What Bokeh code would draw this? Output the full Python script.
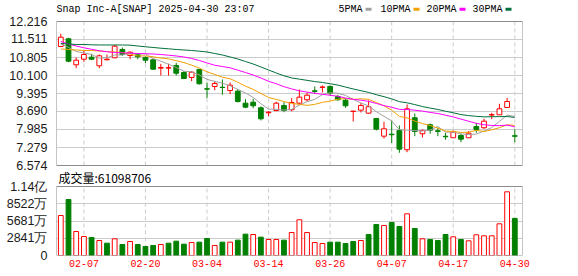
from bokeh.plotting import figure
from bokeh.models import FixedTicker, Range1d, ColumnDataSource, BoxAnnotation
from bokeh.core.properties import value
from bokeh.embed import file_html
from bokeh.resources import INLINE

# ---------------- data ----------------
dates = ["02-04", "02-05", "02-06", "02-07", "02-10", "02-11", "02-12", "02-13", "02-14",
         "02-18", "02-19", "02-20", "02-21", "02-24", "02-25", "02-26", "02-27", "02-28",
         "03-03", "03-04", "03-05", "03-06", "03-07", "03-10", "03-11", "03-12", "03-13",
         "03-14", "03-17", "03-18", "03-19", "03-20", "03-21", "03-24", "03-25", "03-26",
         "03-27", "03-28", "03-31", "04-01", "04-02", "04-03", "04-04", "04-07", "04-08",
         "04-09", "04-10", "04-11", "04-14", "04-15", "04-16", "04-17", "04-21", "04-22",
         "04-23", "04-24", "04-25", "04-28", "04-29", "04-30"]

open_ = [11.237, 11.538, 10.520, 10.739, 10.818, 10.481, 10.716, 10.794, 11.119, 10.884,
         10.912, 10.806, 10.716, 10.387, 10.390, 10.493, 10.218, 10.023, 10.336, 9.580,
         9.670, 9.640, 9.513, 9.486, 9.016, 9.055, 8.836, 8.640, 8.730, 8.926,
         8.758, 9.016, 9.149, 9.500, 9.635, 9.670, 9.278, 9.133, 8.691, 8.742,
         8.624, 8.417, 7.723, 7.800, 7.946, 7.190, 8.444, 7.817, 8.170, 7.935,
         7.720, 7.661, 7.751, 7.661, 8.103, 8.052, 8.550, 8.561, 8.848, 7.740]
high = [11.734, 11.578, 10.806, 11.068, 10.951, 10.923, 10.923, 11.303, 11.198, 11.041,
        10.951, 10.857, 10.755, 10.559, 10.560, 10.598, 10.270, 10.270, 10.363, 9.827,
        9.866, 9.944, 9.827, 9.564, 9.173, 9.190, 8.887, 8.702, 9.071, 9.055,
        9.212, 9.550, 9.423, 9.670, 9.709, 9.709, 9.345, 9.188, 8.718, 9.032,
        9.122, 8.430, 8.287, 8.330, 8.142, 8.965, 8.612, 7.986, 8.221, 8.052,
        7.856, 7.946, 7.817, 7.919, 8.248, 8.405, 8.640, 8.992, 9.227, 7.986]
low = [11.210, 10.622, 10.387, 10.637, 10.700, 10.387, 10.700, 10.794, 10.872, 10.739,
       10.739, 10.583, 10.324, 10.101, 10.100, 10.101, 9.956, 9.878, 9.748, 9.212,
       9.525, 9.345, 9.368, 9.043, 8.820, 8.820, 8.338, 8.507, 8.702, 8.663,
       8.702, 8.965, 9.094, 9.384, 9.435, 9.306, 9.110, 8.836, 8.299, 8.651,
       8.600, 7.946, 7.633, 7.460, 7.073, 7.096, 7.723, 7.672, 7.817, 7.723,
       7.582, 7.661, 7.488, 7.661, 7.856, 8.013, 8.389, 8.561, 8.848, 7.488]
close = [11.601, 10.661, 10.700, 10.923, 10.739, 10.872, 10.739, 11.249, 10.923, 11.014,
         10.833, 10.700, 10.348, 10.414, 10.410, 10.191, 9.983, 10.231, 9.776, 9.565,
         9.788, 9.630, 9.721, 9.082, 8.860, 8.914, 8.405, 8.663, 9.016, 8.730,
         9.043, 9.251, 9.329, 9.480, 9.650, 9.408, 9.149, 8.914, 8.702, 8.926,
         8.875, 7.998, 8.013, 7.780, 7.214, 8.796, 7.907, 7.946, 7.958, 7.910,
         7.700, 7.880, 7.606, 7.841, 7.986, 8.311, 8.570, 8.796, 9.082, 7.720]

ma5 = [11.343, 11.198, 11.041, 10.982, 10.925, 10.779, 10.795, 10.904, 10.904, 10.959,
       10.952, 10.944, 10.764, 10.662, 10.541, 10.413, 10.269, 10.246, 10.118, 9.949,
       9.869, 9.798, 9.696, 9.557, 9.416, 9.241, 8.996, 8.785, 8.772, 8.746,
       8.771, 8.941, 9.074, 9.167, 9.351, 9.424, 9.403, 9.320, 9.165, 9.020,
       8.913, 8.683, 8.503, 8.318, 7.976, 7.960, 7.942, 7.929, 7.964, 8.103,
       7.884, 7.879, 7.811, 7.787, 7.803, 7.925, 8.063, 8.301, 8.549, 8.496]
ma10 = [11.139, 11.119, 11.100, 11.080, 11.080, 11.060, 11.041, 11.021, 11.002, 10.942,
        10.865, 10.869, 10.834, 10.783, 10.750, 10.682, 10.607, 10.505, 10.390, 10.245,
        10.141, 10.034, 9.971, 9.838, 9.683, 9.555, 9.397, 9.240, 9.164, 9.081,
        9.006, 8.969, 8.929, 8.969, 9.048, 9.098, 9.172, 9.197, 9.166, 9.185,
        9.168, 9.043, 8.912, 8.742, 8.498, 8.437, 8.313, 8.216, 8.141, 8.040,
        7.922, 7.910, 7.870, 7.876, 7.953, 7.905, 7.971, 8.056, 8.168, 8.149]
ma20 = [11.433, 11.335, 11.256, 11.186, 11.127, 11.072, 11.029, 11.002, 10.990, 10.978,
        10.963, 10.955, 10.943, 10.923, 10.896, 10.865, 10.826, 10.767, 10.688, 10.594,
        10.503, 10.451, 10.402, 10.310, 10.216, 10.119, 10.002, 9.873, 9.777, 9.663,
        9.574, 9.501, 9.450, 9.403, 9.365, 9.326, 9.285, 9.219, 9.165, 9.133,
        9.087, 9.006, 8.920, 8.855, 8.773, 8.767, 8.742, 8.706, 8.653, 8.612,
        8.545, 8.477, 8.391, 8.309, 8.225, 8.171, 8.142, 8.136, 8.155, 8.094]
ma30 = [11.354, 11.335, 11.315, 11.315, 11.303, 11.296, 11.296, 11.296, 11.296, 11.288,
        11.256, 11.225, 11.198, 11.170, 11.147, 11.119, 11.100, 11.080, 11.053, 11.021,
        10.963, 10.904, 10.826, 10.747, 10.649, 10.551, 10.434, 10.316, 10.199, 10.089,
        10.004, 9.957, 9.911, 9.863, 9.827, 9.778, 9.725, 9.647, 9.573, 9.504,
        9.438, 9.348, 9.271, 9.183, 9.076, 9.030, 8.961, 8.884, 8.824, 8.769,
        8.699, 8.641, 8.570, 8.529, 8.500, 8.480, 8.485, 8.490, 8.492, 8.458]

# volume in millions of shares
volume_m = [65.9, 92.2, 39.5, 31.3, 29.7, 24.7, 20.3, 27.5, 18.1, 23.1,
            18.1, 14.8, 16.5, 18.1, 20.3, 23.6, 18.7, 21.4, 22.0, 28.0,
            16.5, 22.0, 22.0, 25.3, 35.2, 34.6, 30.2, 26.4, 26.4, 25.3,
            37.9, 58.8, 37.9, 21.4, 19.8, 22.0, 22.0, 19.8, 23.1, 24.7,
            34.6, 51.1, 49.4, 54.4, 47.8, 68.7, 44.5, 27.5, 26.4, 24.7,
            34.6, 30.8, 26.4, 24.2, 34.1, 32.4, 32.4, 52.2, 104.9, 61.099]
# 1 = up day (red, hollow), 0 = down day (green) for the volume bars
vol_up = [1, 0, 1, 1, 0, 1, 0, 1, 0, 1,
          0, 0, 0, 1, 0, 0, 0, 1, 0, 0,
          1, 0, 1, 0, 0, 1, 0, 1, 1, 0,
          1, 1, 1, 1, 1, 0, 0, 0, 0, 1,
          0, 0, 1, 0, 0, 1, 0, 1, 0, 0,
          0, 1, 0, 1, 1, 1, 1, 1, 1, 0]

price_tick_labels = ["6.574", "7.279", "7.985", "8.690", "9.395", "10.100", "10.805", "11.511", "12.216"]
vol_tick_values = [0, 28.41, 56.82, 85.23, 113.64]
vol_tick_labels = ["0", "2841万", "5681万", "8522万", "1.14亿"]
x_tick_labels = ["02-07", "02-20", "03-04", "03-14", "03-26", "04-07", "04-17", "04-30"]

title_text = "Snap Inc-A[SNAP] 2025-04-30 23:07"
vol_text = "成交量:61098706"
ma_names = ["5PMA", "10PMA", "20PMA", "30PMA"]

# ---------------- styling / layout ----------------
RED = "#ff0000"
GREEN = "#008000"
MA_COLORS = ["#a0a0a0", "#f0a000", "#ff00ff", "#00703c"]
GRID = "#cccccc"
OUTLINE = "#8c8c8c"
MONO = "Liberation Mono"
SANS = "Liberation Sans"

W, H = 578, 276
LEFT, RIGHT = 56, 522            # frame left / right (px)
PRICE_TOP, PRICE_BOT = 21, 165   # price panel (px from top)
VOL_TOP, VOL_BOT = 186, 255      # volume panel (px from top)

n = len(dates)
xs = list(range(n))
up = [c >= o for o, c in zip(open_, close)]
tick_pos = [dates.index(d) for d in x_tick_labels]
price_ticks = [float(s) for s in price_tick_labels]
p_min, p_max = price_ticks[0], price_ticks[-1]

# main y range: price scale, frame from canvas top (px 0) down to VOL_BOT
per_px = (p_max - p_min) / (PRICE_BOT - PRICE_TOP)
y_end = p_max + PRICE_TOP * per_px
y_start = p_min - (VOL_BOT - PRICE_BOT) * per_px
vol_max = vol_tick_values[-1]
vol_end = vol_max * VOL_BOT / (VOL_BOT - VOL_TOP)
vol_in_main = [y_start + v * (y_end - y_start) / vol_end for v in vol_tick_values]

units_per_px_x = 60.56 / (RIGHT - LEFT)
x_start = -0.56
x_end = x_start + (RIGHT - LEFT) * units_per_px_x

def px_x(px):
    return x_start + (px - LEFT) * units_per_px_x

def px_y(py):
    return p_max + (PRICE_TOP - py) * per_px

candles = ColumnDataSource(dict(
    x=xs, high=high, low=low,
    top=[max(o, c) for o, c in zip(open_, close)],
    bottom=[min(o, c) for o, c in zip(open_, close)],
    line=[RED if u else GREEN for u in up],
    fill=["#ffffff" if u else GREEN for u in up],
))
vols = ColumnDataSource(dict(
    x=xs, v=volume_m,
    line=[RED if u else GREEN for u in vol_up],
    fill=["#ffffff" if u else GREEN for u in vol_up],
))

p = figure(width=W, height=H, x_range=Range1d(x_start, x_end), y_range=Range1d(y_start, y_end),
           output_backend="svg", toolbar_location=None, title=None,
           min_border_left=LEFT, min_border_right=W - RIGHT, min_border_top=0,
           min_border_bottom=H - VOL_BOT)
p.extra_y_ranges = {"vol": Range1d(0, vol_end)}
p.outline_line_color = None

# axes
all_y_ticks = price_ticks + vol_in_main
overrides = {t: s for t, s in zip(price_ticks, price_tick_labels)}
overrides.update({t: s for t, s in zip(vol_in_main, vol_tick_labels)})
p.yaxis.ticker = FixedTicker(ticks=all_y_ticks)
p.yaxis.major_label_overrides = overrides
p.ygrid.ticker = FixedTicker(ticks=all_y_ticks)
p.ygrid.grid_line_color = GRID
p.xgrid.visible = False
p.xaxis.ticker = FixedTicker(ticks=tick_pos)
p.xaxis.major_label_overrides = {t: s for t, s in zip(tick_pos, x_tick_labels)}

for ax in p.yaxis:
    ax.axis_line_color = None
    ax.major_tick_line_color = None
    ax.minor_tick_line_color = None
    ax.major_label_standoff = 3
    ax.major_label_text_font = SANS
    ax.major_label_text_font_size = "12.5px"
    ax.major_label_text_color = "#1a1a1a"
for ax in p.xaxis:
    ax.axis_line_color = None
    ax.major_tick_line_color = None
    ax.minor_tick_line_color = None
    ax.major_tick_out = 0
    ax.major_label_standoff = 4
    ax.major_label_text_font = MONO
    ax.major_label_text_font_size = "10px"
    ax.major_label_text_color = RED

# vertical dashed grid lines, one set per panel
p.segment(x0=tick_pos, y0=[p_min] * len(tick_pos), x1=tick_pos, y1=[p_max] * len(tick_pos),
          line_color=GRID, line_dash="4 3", line_width=1)
p.segment(x0=tick_pos, y0=[0] * len(tick_pos), x1=tick_pos, y1=[vol_max] * len(tick_pos),
          line_color=GRID, line_dash="4 3", line_width=1, y_range_name="vol")

# candles
p.segment(x0="x", y0="high", x1="x", y1="low", source=candles, line_color="line", line_width=1)
p.vbar(x="x", width=0.62, top="top", bottom="bottom", source=candles,
       fill_color="fill", line_color="line", line_width=1)
for ma, col in zip([ma5, ma10, ma20, ma30], MA_COLORS):
    p.line(xs, ma, line_color=col, line_width=1)

# volume
p.vbar(x="x", width=0.62, top="v", bottom=0, source=vols, y_range_name="vol",
       fill_color="fill", line_color="line", line_width=1)

# panel borders
p.add_layout(BoxAnnotation(bottom=p_min, top=p_max, fill_alpha=0, fill_color=None,
                           line_color=OUTLINE, line_width=1, line_alpha=1))
p.add_layout(BoxAnnotation(bottom=0, top=vol_max, y_range_name="vol", fill_alpha=0, fill_color=None,
                           line_color=OUTLINE, line_width=1, line_alpha=1))

# texts: title, legend, volume caption
p.text(x=[px_x(LEFT)], y=[px_y(8.5)], text=[title_text], text_font=value(MONO),
       text_font_size="10px", text_baseline="middle", text_align="left", text_color="#000000")
leg_text_px = [338, 380, 426, 472]
leg_sw_px = [368, 416, 462, 508]
p.text(x=[px_x(t) for t in leg_text_px], y=[px_y(9)] * 4, text=ma_names, text_font=value(MONO),
       text_font_size="10px", text_baseline="middle", text_align="left", text_color="#000000")
p.rect(x=[px_x(s) for s in leg_sw_px], y=[px_y(8.7)] * 4, width=6, height=3,
       width_units="screen", height_units="screen", fill_color=MA_COLORS, line_color=None)
p.text(x=[px_x(58)], y=[px_y(177)], text=[vol_text], text_font=value("Noto Sans CJK SC"),
       text_font_size="12px", text_baseline="middle", text_align="left", text_color="#000000")

open("out.html", "w").write(file_html(p, INLINE))
